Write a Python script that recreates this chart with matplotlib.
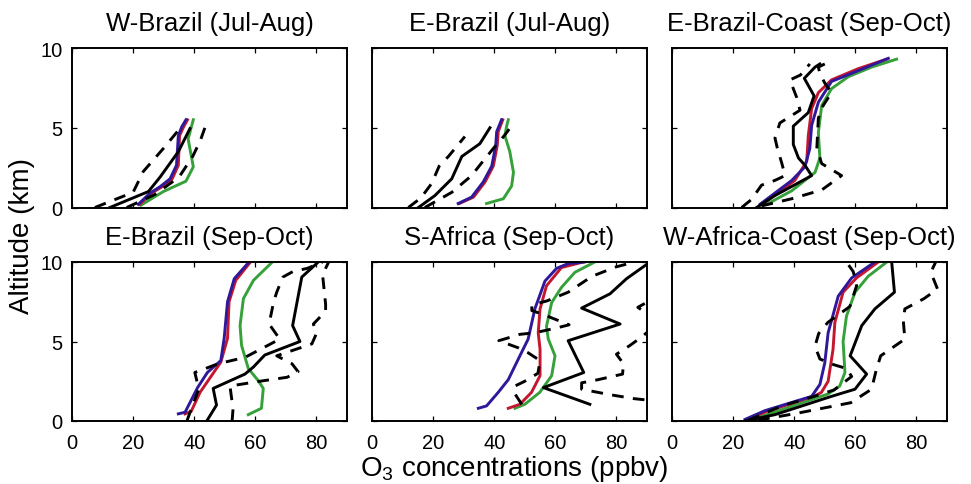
import matplotlib
matplotlib.use('Agg')
import matplotlib.pyplot as plt

plt.rcParams['font.family'] = ['Liberation Sans', 'DejaVu Sans']
plt.rcParams['mathtext.fontset'] = 'custom'
plt.rcParams['mathtext.rm'] = 'Liberation Sans'

# (O3 ppbv, altitude km) points
titles = ['W-Brazil (Jul-Aug)', 'E-Brazil (Jul-Aug)', 'E-Brazil-Coast (Sep-Oct)',
          'E-Brazil (Sep-Oct)', 'S-Africa (Sep-Oct)', 'W-Africa-Coast (Sep-Oct)']

# W-Brazil (Jul-Aug)
wb_med = [(12.4, 0), (25, 1.0), (28.8, 1.9), (34.8, 3.5), (38.6, 4.95)]
wb_q1 = [(7.5, 0), (20, 0.95), (23.3, 2.25), (29.9, 3.7), (35.3, 4.95)]
wb_q3 = [(17.9, 0), (27, 0.8), (35, 1.9), (39.5, 3.2), (42, 4.2), (43.5, 5.0)]
wb_blue = [(21.7, 0.2), (25.5, 0.9), (28.8, 1.3), (32.1, 1.8), (34.2, 2.65), (34.8, 4.5), (35.9, 5.05), (37.3, 5.5)]
wb_red = [(22.2, 0.2), (26, 0.9), (29.5, 1.3), (32.8, 1.8), (34.8, 2.65), (35.2, 4.5), (36.5, 5.05), (37.8, 5.5)]
wb_green = [(22.6, 0.15), (29.9, 1.0), (37.3, 1.65), (39.7, 2.55), (38.0, 4.3), (39.7, 5.5)]

# E-Brazil (Jul-Aug)
eb_med = [(15.2, 0), (20.6, 0.75), (26.1, 1.8), (29.4, 3.2), (35.3, 4.0), (38.6, 5.0)]
eb_q1 = [(11.9, 0), (16, 0.6), (19.5, 1.5), (22, 2.6), (25, 3.2), (30.4, 4.45)]
eb_q3 = [(17.3, 0), (26.1, 0.95), (32.6, 2.0), (35.9, 2.8), (39.7, 3.7), (43.5, 4.55), (45.4, 5.05)]
eb_blue = [(28.2, 0.25), (32.6, 0.65), (36.4, 1.6), (39.2, 2.6), (40.5, 3.9), (40.8, 4.75), (42.4, 5.5)]
eb_red = [(28.6, 0.25), (33.2, 0.65), (37, 1.6), (39.7, 2.6), (41, 3.9), (41.3, 4.75), (42.8, 5.5)]
eb_green = [(37.5, 0.25), (43, 0.55), (45.7, 1.35), (46.3, 2.2), (45.1, 3.5), (43.5, 4.5), (44, 5.05), (44.6, 5.5)]

# E-Brazil-Coast (Sep-Oct)
ebc_med = [(27.7, 0), (33.7, 0.75), (45.7, 2.0), (43.5, 2.65), (41.4, 3.1), (39.7, 3.95), (39.7, 5.1),
           (44.6, 5.95), (46.5, 7.0), (43.3, 8.1), (46.8, 8.8), (48.4, 9.0)]
ebc_q1 = [(22.8, 0), (26, 0.5), (29.3, 1.4), (33.7, 1.7), (37, 2.0), (35.9, 2.8), (34.5, 3.7), (33.7, 4.35),
          (35.3, 5.3), (38.6, 5.7), (41.9, 6.1), (40.8, 6.9), (38.6, 8.0), (42, 8.3), (45.1, 9.0)]
ebc_q3 = [(29.3, 0.1), (39.2, 0.55), (49, 1.1), (55.5, 2.0), (49, 2.75), (47.4, 3.7), (47.9, 5.6), (49.5, 6.4),
          (52.2, 7.2), (50, 7.8), (48.4, 8.4), (47.9, 8.8), (50, 9.0)]
ebc_blue = [(28.8, 0.2), (39.2, 1.7), (43.5, 2.55), (45.1, 3.7), (45.7, 5.15), (47.9, 6.6), (52.2, 7.9),
            (59.9, 8.5), (70.8, 9.35)]
ebc_red = [(29.5, 0.2), (40.2, 1.7), (44.1, 2.9), (44.6, 4.5), (45.7, 6.2), (47.9, 7.2), (52.2, 8.0),
           (60.9, 8.7), (70.2, 9.3)]
ebc_green = [(31, 0.2), (39.2, 1.05), (46.8, 2.2), (48.4, 3.1), (47.9, 4.7), (49, 6.4), (52.2, 7.45),
             (57.7, 8.2), (65.3, 8.8), (73.5, 9.3)]

# E-Brazil (Sep-Oct)
ebs_med = [(44.1, 0), (47.3, 1.0), (46.2, 2.05), (56.6, 2.95), (59.4, 3.4), (63.1, 4.15), (74.6, 5.0),
           (72.2, 6.0), (75.2, 9.05), (80.6, 10)]
ebs_q1 = [(37.6, 0), (39.5, 1.0), (41.5, 2.0), (40.2, 3.05), (47.8, 3.6), (56.6, 4.0), (68, 5.15), (64.5, 6.1),
          (66, 7.5), (67, 8.1), (69, 9.05), (72.3, 9.4), (77, 9.6), (82, 10)]
ebs_q3 = [(52.4, 0), (52.7, 0.75), (51.7, 2.2), (61.5, 2.5), (70.4, 2.75), (74, 3.1), (72, 3.6), (67, 4.1),
          (78.5, 4.85), (80, 5.5), (79, 6.1), (83, 6.9), (83, 7.35), (82, 9.2), (84, 10)]
ebs_blue = [(34.8, 0.45), (37, 0.55), (41.1, 2.1), (44.3, 3.05), (48.7, 3.8), (49.8, 5.2), (50.9, 7.5),
            (53.1, 8.95), (57.7, 9.95)]
ebs_red = [(37, 0.45), (39, 0.6), (41.9, 1.8), (48.7, 3.7), (50.9, 5.2), (51.4, 7.5), (53.6, 8.85), (58.2, 9.95)]
ebs_green = [(57.7, 0.4), (62, 0.8), (62.6, 2.05), (60.9, 2.55), (57.7, 3.3), (55.5, 4.75), (55, 6.0),
             (56.1, 7.7), (59.4, 8.85), (65.3, 9.95)]

# S-Africa (Sep-Oct)
saf_med = [(71.3, 1.05), (56.1, 2.1), (69.3, 3.05), (64.2, 5.05), (81.2, 6.1), (68.6, 7.1), (77.9, 8.0),
           (83.3, 8.95), (91, 10)]
saf_q1 = [(49, 1.05), (46.8, 1.7), (46.8, 2.2), (50, 2.5), (54.3, 3.0), (55, 3.8), (51, 4.3), (47.9, 4.6),
          (41.5, 5.05), (48.4, 5.45), (53.3, 5.55), (60.4, 5.85), (64.5, 6.05), (56, 6.7), (52.3, 6.95),
          (52.3, 7.3), (57.2, 7.55), (64.2, 8.1), (72, 9.1), (80, 9.7), (86, 10)]
saf_q3 = [(96, 1.2), (86, 1.4), (78, 1.65), (68.6, 2.0), (68.6, 2.4), (74, 2.6), (82, 2.95), (82.3, 3.6),
          (80, 4.2), (84.4, 4.75), (88, 5.25), (94, 6.2), (87, 7.15), (95, 8), (100, 10)]
saf_blue = [(34.8, 0.8), (37.5, 0.95), (41.3, 1.8), (44.6, 2.6), (48.4, 4.1), (51.1, 5.15), (53.3, 7.05),
            (56.6, 8.8), (60.4, 9.6), (64.2, 9.9), (69.6, 10)]
saf_red = [(44.6, 0.8), (48.4, 1.05), (52.2, 1.8), (55, 2.85), (55, 4.5), (54.4, 5.55), (55, 7.05),
           (57.1, 8.5), (62, 9.65), (69.1, 10)]
saf_green = [(46.8, 0.8), (50, 1.05), (54.9, 1.8), (58.8, 2.85), (59.9, 4.1), (57.7, 5.15), (57.1, 5.95),
             (58.8, 7.45), (62, 8.4), (66.4, 9.35), (72.9, 10)]

# W-Africa-Coast (Sep-Oct)
waf_med = [(23.9, 0), (33.7, 0.4), (52.2, 1.55), (59.9, 2.0), (63.7, 2.95), (58.3, 4.1), (62.1, 6.0),
           (66.4, 7.05), (72.8, 8.1), (71.9, 10)]
waf_q1 = [(25, 0.05), (36, 0.95), (45.7, 1.5), (53, 1.95), (58.8, 2.8), (57.1, 3.3), (52.8, 3.55),
          (48.4, 3.9), (46.8, 4.7), (48, 5.5), (51, 6.2), (58.2, 7.2), (60.4, 8.5), (60, 8.9), (59.3, 9.4),
          (57.1, 10)]
waf_q3 = [(28.2, 0.05), (41.3, 0.5), (58.5, 1.15), (65.3, 2.0), (66.9, 3.25), (68.3, 4.1), (76.2, 5.15),
          (75.7, 6.3), (76.2, 7.05), (82.5, 7.7), (86.9, 8.3), (84.7, 9.35), (86.3, 10)]
waf_blue = [(23.9, 0.1), (30.4, 0.65), (45.7, 1.55), (48.4, 2.3), (50, 3.65), (51.1, 5.55), (54.4, 7.85),
            (58.8, 9.0), (66.4, 10)]
waf_red = [(24.5, 0.1), (31, 0.6), (47, 1.6), (48.9, 1.8), (51.1, 2.5), (52.7, 4.5), (53.3, 6.2), (56, 8.1),
           (60.4, 9.0), (67.5, 10)]
waf_green = [(25.5, 0.05), (32.6, 0.5), (51.1, 1.7), (54.9, 2.2), (56.6, 3.05), (56, 5.0), (57.1, 6.6),
             (59.9, 8.1), (64.2, 9.1), (70.3, 10)]

panels = [
    (wb_med, wb_q1, wb_q3, wb_blue, wb_red, wb_green),
    (eb_med, eb_q1, eb_q3, eb_blue, eb_red, eb_green),
    (ebc_med, ebc_q1, ebc_q3, ebc_blue, ebc_red, ebc_green),
    (ebs_med, ebs_q1, ebs_q3, ebs_blue, ebs_red, ebs_green),
    (saf_med, saf_q1, saf_q3, saf_blue, saf_red, saf_green),
    (waf_med, waf_q1, waf_q3, waf_blue, waf_red, waf_green),
]

c_blue = '#30189a'
c_red = '#c4162e'
c_green = '#36a03a'

W, H = 971, 485
fig = plt.figure(figsize=(W / 100, H / 100), dpi=100)
lefts = [72, 372, 672]
rows = [(49, 208.5), (263, 422)]   # top and bottom pixel of each row


def xy(pts):
    return [p[0] for p in pts], [p[1] for p in pts]


for i, (med, q1, q3, blue, red, green) in enumerate(panels):
    r, c = divmod(i, 3)
    top, bot = rows[r]
    ax = fig.add_axes([lefts[c] / W, 1 - bot / H, 275 / W, (bot - top) / H])
    lw = 2.1
    for pts, col in [(green, c_green), (red, c_red), (blue, c_blue)]:
        x, y = xy(pts)
        ax.plot(x, y, color=col, lw=lw, solid_joinstyle='round')
    for pts in [q1, q3]:
        x, y = xy(pts)
        ax.plot(x, y, color='k', lw=lw, ls=(0, (4, 3.2)))
    x, y = xy(med)
    ax.plot(x, y, color='k', lw=lw)

    ax.set_xlim(0, 90)
    ax.set_ylim(0, 10)
    ax.set_xticks([0, 20, 40, 60, 80])
    ax.set_yticks([0, 5, 10])
    ax.tick_params(direction='in', top=True, right=True, length=3.5, width=0.9,
                   labelsize=14.5, pad=7)
    ax.tick_params(axis='x', pad=9)
    if r == 0:
        ax.set_xticklabels([])
    if c != 0:
        ax.set_yticklabels([])
    for s in ax.spines.values():
        s.set_linewidth(1.4)
    ax.set_title(titles[i], fontsize=18.5, pad=13)

fig.text(0.023, 1 - 235.5 / H, 'Altitude (km)', rotation=90, fontsize=20,
         ha='center', va='center')
fig.text(0.53, 1 - 476 / H, 'O$_3$ concentrations (ppbv)', fontsize=20,
         ha='center', va='baseline')

fig.savefig('out.png', dpi=100)
